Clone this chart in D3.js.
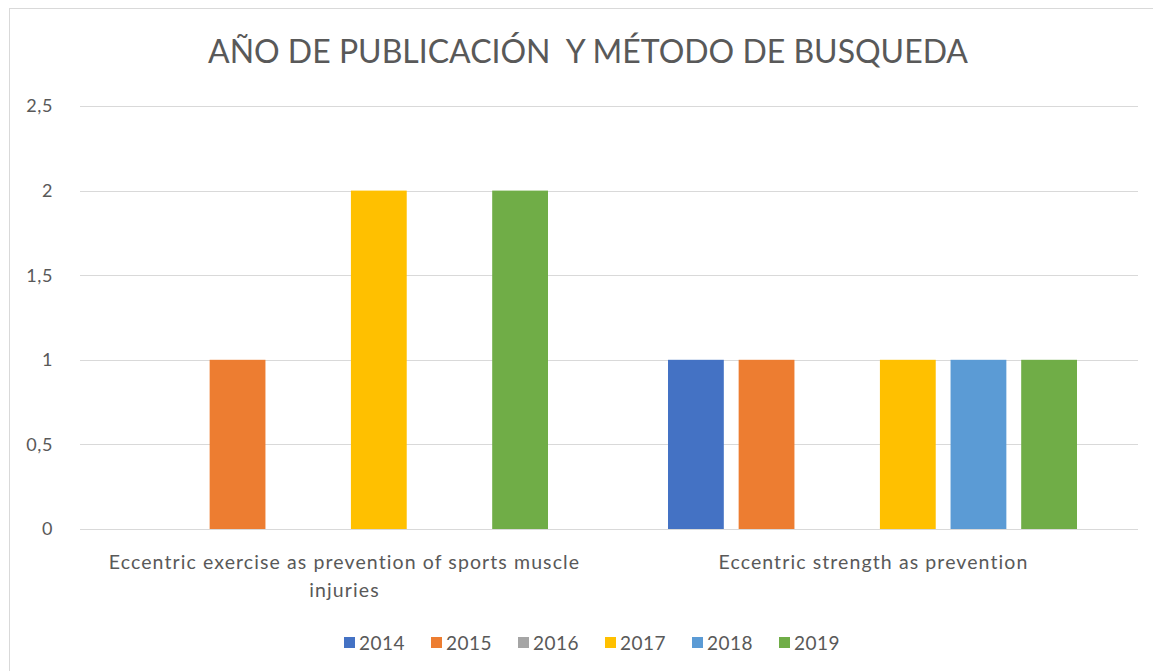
<!DOCTYPE html>
<html>
<head>
<meta charset="utf-8">
<script src="https://cdn.jsdelivr.net/npm/d3@7"></script>
<style>
  body { margin: 0; background: #fff; }
  text { font-family: Lato, "Open Sans", sans-serif; fill: #595959; }
</style>
</head>
<body>
<script>
// data
const categories = ["Eccentric exercise as prevention of sports muscle injuries", "Eccentric strength as prevention"];
const years = ["2014", "2015", "2016", "2017", "2018", "2019"];
const values = {
    "2014": [0, 1],
    "2015": [1, 1],
    "2016": [0, 0],
    "2017": [2, 1],
    "2018": [0, 1],
    "2019": [2, 1]
};
const colors = ["#4472C4", "#ED7D31", "#A5A5A5", "#FFC000", "#5B9BD5", "#70AD47"];
const yTicks = [0, 0.5, 1, 1.5, 2, 2.5];
const titleText = "AÑO DE PUBLICACIÓN  Y MÉTODO DE BUSQUEDA";

const W = 1153, H = 671;
let margin = {top: 106, right: 15, bottom: 142, left: 80};
let width = W - margin.left - margin.right;
let height = H - margin.top - margin.bottom;

const svg = d3.select("body").append("svg")
    .attr("width", W)
    .attr("height", H);

// chart frame
svg.append("rect")
    .attr("x", 9.5).attr("y", 8.5)
    .attr("width", W).attr("height", H)
    .attr("fill", "none")
    .attr("stroke", "#d9d9d9");

svg.append("text")
    .attr("x", 588)
    .attr("y", 63)
    .attr("text-anchor", "middle")
    .style("font-size", "32px")
    .style("white-space", "pre")
    .text(titleText);

const g = svg.append("g")
    .attr("transform", "translate(" + margin.left + "," + margin.top + ")");

const x0 = d3.scaleBand().domain(categories).range([0, width]);
const x1 = d3.scaleBand().domain(years)
    .range([59, x0.bandwidth() - 61])
    .paddingInner(0.21);
const y = d3.scaleLinear().domain([0, 2.5]).range([height, 0]);
const color = d3.scaleOrdinal().domain(years).range(colors);

// grid lines
g.append("g")
    .selectAll("line")
    .data(yTicks)
    .join("line")
    .attr("x1", 0).attr("x2", width)
    .attr("y1", d => Math.round(y(d)) + 0.5)
    .attr("y2", d => Math.round(y(d)) + 0.5)
    .attr("stroke", "#d9d9d9");

// y labels
g.append("g")
    .selectAll("text")
    .data(yTicks)
    .join("text")
    .attr("x", -27)
    .attr("y", d => y(d))
    .attr("dy", "0.35em")
    .attr("text-anchor", "end")
    .style("font-size", "18px")
    .style("letter-spacing", "0.6px")
    .text(d => d3.format("")(d).replace(".", ","));

// bars
const groups = g.selectAll(".cat")
    .data(categories)
    .join("g")
    .attr("class", "cat")
    .attr("transform", d => "translate(" + x0(d) + ",0)");

groups.selectAll("rect")
    .data((d, i) => years.map(yr => ({year: yr, value: values[yr][i]})))
    .join("rect")
    .attr("x", d => x1(d.year))
    .attr("width", x1.bandwidth())
    .attr("y", d => y(d.value))
    .attr("height", d => height - y(d.value))
    .attr("fill", d => color(d.year));

// category labels (wrapped like the original)
const catLines = [["Eccentric exercise as prevention of sports muscle", "injuries"], ["Eccentric strength as prevention"]];
groups.each(function (d, i) {
    const t = d3.select(this).append("text")
        .attr("x", x0.bandwidth() / 2)
        .attr("y", height + 40)
        .attr("text-anchor", "middle")
        .style("font-size", "19.5px")
        .style("letter-spacing", "1.1px");
    catLines[i].forEach((line, k) => {
        t.append("tspan")
            .attr("x", x0.bandwidth() / 2)
            .attr("dy", k === 0 ? 0 : 28)
            .text(line);
    });
});

// legend
const legend = svg.append("g")
    .attr("transform", "translate(344,643)");
const step = 87;
const item = legend.selectAll("g")
    .data(years)
    .join("g")
    .attr("transform", (d, i) => "translate(" + (i * step) + ",0)");
item.append("rect")
    .attr("x", 0).attr("y", -6)
    .attr("width", 11).attr("height", 11)
    .attr("fill", d => color(d));
item.append("text")
    .attr("x", 15)
    .attr("y", 0)
    .attr("dy", "0.35em")
    .style("font-size", "19px")
    .style("letter-spacing", "0.5px")
    .text(d => d);
</script>
</body>
</html>
